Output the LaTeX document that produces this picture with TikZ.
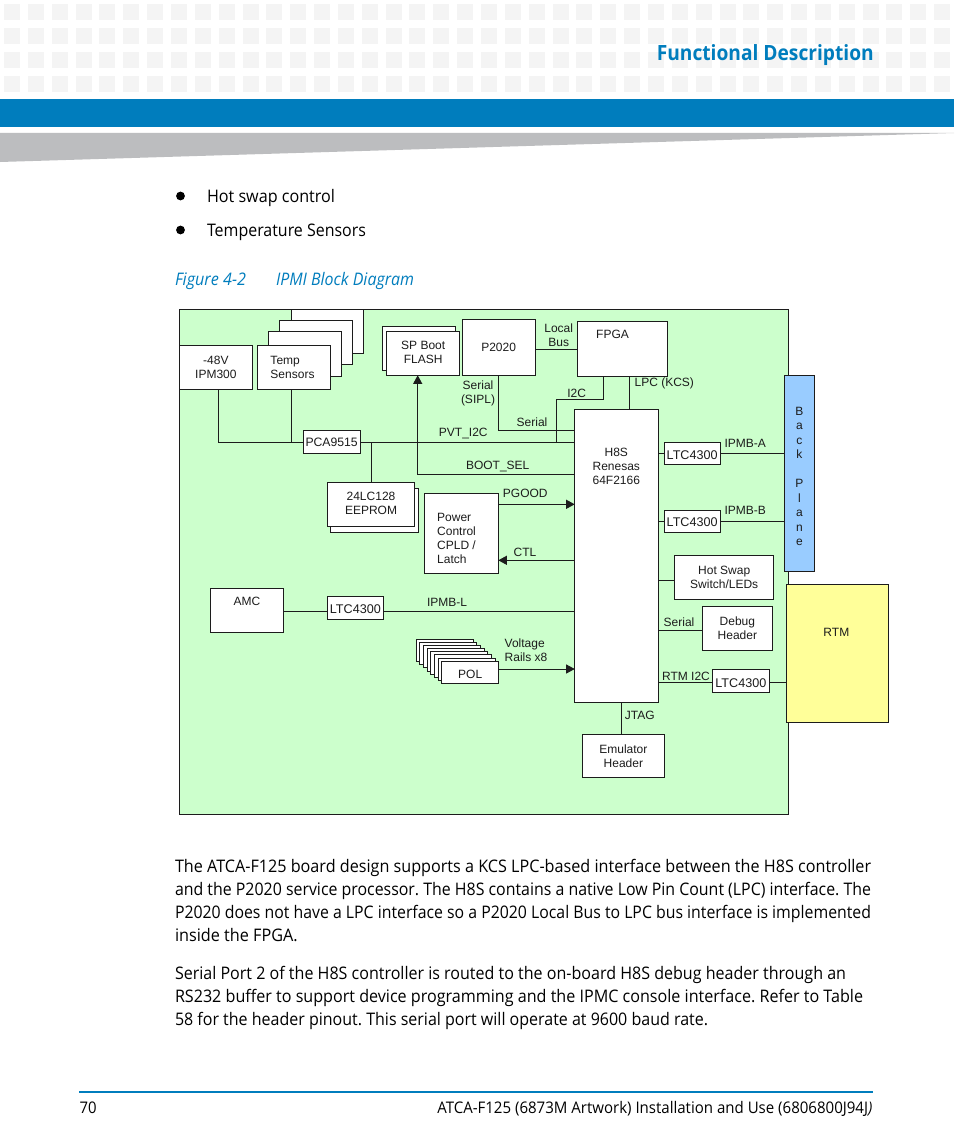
\documentclass[tikz,border=0pt]{standalone}
\usepackage{fontspec}
\usepackage{graphicx}
\usetikzlibrary{arrows.meta}
\setmainfont{Liberation Sans}
\newfontfamily\bdy{Open Sans}
\definecolor{ink}{HTML}{1C1C1C}
\definecolor{panel}{HTML}{CCFFCC}
\definecolor{bp}{HTML}{99CCFF}
\definecolor{rtmc}{HTML}{FFFF99}
\definecolor{brand}{HTML}{007DBD}
\definecolor{wedge}{HTML}{BCBDBF}
\definecolor{sq}{HTML}{F4F4F4}
\newcommand{\pbox}[7][]{%
  \pgfmathsetmacro\pbw{#5-#3}%
  \pgfmathsetmacro\pbh{#6-#4}%
  \node[box,#1,minimum width=\pbw pt,minimum height=\pbh pt] (#2) at ({(#3+#5)/2},{(#4+#6)/2}) {#7};}
\newcommand{\fitw}[2]{\resizebox{#1pt}{\height}{#2}}
\tikzset{
  box/.style={draw=ink,fill=white,line width=0.9pt,inner sep=0pt,outer sep=0pt,align=center,text=ink,font=\fontsize{12}{14}\selectfont},
  txt/.style={inner sep=0pt,outer sep=0pt,align=center,text=ink,font=\fontsize{12}{14}\selectfont},
  ltctxt/.style={txt,font=\fontsize{12.6}{14}\selectfont},
  wire/.style={draw=ink,line width=0.9pt},
  arrowed/.style={wire,-{Triangle[length=8.5pt,width=9pt]}},
  bodyline/.style={inner sep=0pt,outer sep=0pt,anchor=base west,text=black,font=\bdy\fontsize{17.3}{22}\selectfont},
  caption/.style={inner sep=0pt,outer sep=0pt,anchor=base west,text=brand,font=\bdy\itshape\fontsize{17.3}{22}\selectfont},
}
\begin{document}
\frenchspacing
\begin{tikzpicture}[x=1pt,y=-1pt]
\useasboundingbox (0,0) rectangle (954,1145);
% page furniture
\fill[white] (0,0) rectangle (954,1145);
\foreach \i in {0,...,39} \foreach \r in {4,28,52,76}
  \fill[sq] ({4+\i*23.85},\r) rectangle ++(16,16);
\fill[brand] (0,99) rectangle (954,127);
\fill[wedge] (0,133) -- (954,133) -- (0,162) -- cycle;
\node[inner sep=0pt,anchor=base east,text=brand,font=\bdy\bfseries\fontsize{21}{24}\selectfont] (title) at (874,61) {\fitw{217}{Functional Description}};
\fill[black] (180.5,196) circle (4.4);
\fill[black] (180.5,230) circle (4.4);
\node[bodyline] (b1) at (207,202) {\fitw{128}{Hot swap control}};
\node[bodyline] (b2) at (207,236) {\fitw{159}{Temperature Sensors}};
\node[caption] (figno) at (175,285) {\fitw{71}{Figure 4-2}};
\node[caption] (figtitle) at (276,285) {\fitw{138}{IPMI Block Diagram}};
% panel
\draw[draw=ink,fill=panel,line width=0.9pt] (179.5,309.5) rectangle (788,814.5);
% boxes
\pbox{tempd}{291}{309.5}{363.7}{353.3}{}
\pbox{tempc}{279.7}{320.7}{352.7}{364.7}{}
\pbox{tempb}{268.3}{331.7}{341.7}{376}{}
\pbox{ipm}{179.5}{345.3}{252.3}{389.3}{-48V\\IPM300}
\pbox[label={[txt,align=left,xshift=-1.3pt]center:Temp\\Sensors}]{temp}{257.3}{345.3}{330.3}{389.3}{}
\pbox{flashb}{382.3}{326.7}{455.7}{370.7}{}
\pbox[label={[txt,yshift=1pt]center:SP Boot\\FLASH}]{flash}{386.7}{331.3}{459.7}{375.3}{}
\pbox{p2020}{462.3}{319.3}{535}{375}{P2020}
\pbox[label={[txt,xshift=-10pt,yshift=14.5pt]center:FPGA}]{fpga}{577.3}{321}{667.7}{376.3}{}
\pbox{h8s}{574.7}{409.7}{658.3}{702.3}{}
\pbox[label={[txt,yshift=-0.8pt,font=\fontsize{12.2}{14}\selectfont]center:PCA9515}]{pca}{303.3}{430.3}{360}{453}{}
\pbox{eepb}{330.7}{488}{418.3}{532.3}{}
\pbox[label={[txt,yshift=0.8pt]center:24LC128\\EEPROM}]{eep}{327.3}{482}{414.7}{526}{}
\pbox[label={[txt,align=left,xshift=-5pt,yshift=-5pt]center:Power\\Control\\CPLD /\\Latch}]{power}{424.7}{493.7}{498.3}{573.3}{}
\pbox[label={[ltctxt,yshift=-1.7pt]center:LTC4300}]{ltca}{664}{442.3}{720.3}{464.3}{}
\pbox[label={[ltctxt,yshift=-1.3pt]center:LTC4300}]{ltcb}{664}{510}{720.3}{532}{}
\pbox{hotswap}{674.7}{555.7}{773.7}{599.3}{Hot Swap\\Switch/LEDs}
\pbox{debug}{702.7}{606}{772}{650.3}{Debug\\Header}
\pbox[label={[ltctxt,yshift=-1.9pt]center:LTC4300}]{ltcr}{712.7}{669.3}{769}{692.3}{}
\pbox{emu}{582.7}{734}{664}{777.7}{Emulator\\Header}
\pbox[label={[txt,yshift=8.5pt]center:AMC}]{amc}{210}{588}{283.7}{632}{}
\pbox[label={[ltctxt,yshift=-1.8pt]center:LTC4300}]{ltcl}{327}{596}{383.7}{619}{}
\pbox{pola}{416.3}{639}{473.3}{661.4}{}
\pbox{polb}{419.9}{642.2}{476.9}{664.6}{}
\pbox{polc}{423.6}{645.4}{480.6}{667.8}{}
\pbox{pold}{427.2}{648.6}{484.2}{671}{}
\pbox{pole}{430.8}{651.8}{487.8}{674.2}{}
\pbox{polf}{434.5}{654.9}{491.5}{677.3}{}
\pbox{polg}{438.1}{658.1}{495.1}{680.5}{}
\pbox[label={[txt,yshift=-2pt]center:POL}]{pol}{441.7}{661.3}{498.7}{683.7}{}
\pbox[fill=bp,label={[txt,yshift=-3pt,font=\fontsize{12}{14.45}\selectfont]center:B\\a\\c\\k\\ \\P\\l\\a\\n\\e}]{back}{784.7}{375}{814}{571.7}{}
\pbox[fill=rtmc,label={[txt,yshift=21.5pt,xshift=-0.8pt]center:RTM}]{rtm}{786}{584.7}{888.3}{722.3}{}
\node[txt] (h8sl) at (616.3,466.7) {H8S\\Renesas\\64F2166};
% connector way-points
\coordinate (busL) at (218.7,442.7);
\coordinate (busT) at (291,442.7);
\coordinate (busE) at (371,442.7);
\coordinate (bootC) at (417.7,474.3);
\coordinate (serC) at (498.7,430.3);
\coordinate (i2cA) at (603.7,399.3);
\coordinate (i2cB) at (556.7,399.3);
\coordinate (i2cC) at (556.7,442.7);
\coordinate (lpcx) at (629.3,0);
\coordinate (jtagx) at (621.7,0);
\coordinate (localy) at (0,349.7);
\coordinate (pgoody) at (0,504.3);
\coordinate (ctly) at (0,560.3);
\coordinate (hsy) at (0,580);
\coordinate (dbgy) at (0,630);
\coordinate (rtmy) at (0,682.7);
\coordinate (ily) at (0,611.3);
\coordinate (vry) at (0,669);
% connectors
\draw[wire] (ipm.south -| busL) -- (busL) -- (pca.west |- busL);
\draw[wire] (temp.south -| busT) -- (busT);
\draw[wire] (pca.east |- busL) -- (h8s.west |- busL);
\draw[wire] (busE) -- (eep.north -| busE);
\draw[arrowed] (h8s.west |- bootC) -- (bootC) -- (flash.south -| bootC);
\draw[wire] (p2020.south -| serC) -- (serC) -- (h8s.west |- serC);
\draw[wire] (fpga.south -| i2cA) -- (i2cA) -- (i2cB) -- (i2cC);
\draw[wire] (fpga.south -| lpcx) -- (h8s.north -| lpcx);
\draw[wire] (p2020.east |- localy) -- (fpga.west |- localy);
\draw[arrowed] (power.east |- pgoody) -- (h8s.west |- pgoody);
\draw[arrowed] (h8s.west |- ctly) -- (power.east |- ctly);
\draw[wire] (h8s.east |- ltca.west) -- (ltca.west);
\draw[wire] (ltca.east) -- (back.west |- ltca.east);
\draw[wire] (h8s.east |- ltcb.west) -- (ltcb.west);
\draw[wire] (ltcb.east) -- (back.west |- ltcb.east);
\draw[wire] (h8s.east |- hsy) -- (hotswap.west |- hsy);
\draw[wire] (h8s.east |- dbgy) -- (debug.west |- dbgy);
\draw[wire] (h8s.east |- rtmy) -- (ltcr.west |- rtmy);
\draw[wire] (ltcr.east |- rtmy) -- (rtm.west |- rtmy);
\draw[wire] (amc.east |- ily) -- (ltcl.west |- ily);
\draw[wire] (ltcl.east |- ily) -- (h8s.west |- ily);
\draw[arrowed] (pol.east |- vry) -- (h8s.west |- vry);
\draw[wire] (h8s.south -| jtagx) -- (emu.north -| jtagx);
% connector labels
\node[txt] (lbus) at (558.7,335) {Local\\Bus};
\node[txt,text height=9pt] (llpc) at (664.3,383.7) {LPC (KCS)};
\node[txt] (li2c) at (576.7,393.3) {I2C};
\node[txt] (lsipl) at (478,393) {Serial\\(SIPL)};
\node[txt] (lser) at (532,422.7) {Serial};
\node[txt] (lpvt) at (463.3,433) {PVT\_I2C};
\node[txt] (lboot) at (497.7,466) {BOOT\_SEL};
\node[txt] (lpg) at (525.3,493.7) {PGOOD};
\node[txt] (lctl) at (525,552.7) {CTL};
\node[txt] (lia) at (745.3,443.7) {IPMB-A};
\node[txt] (lib) at (745.3,510.7) {IPMB-B};
\node[txt] (lse) at (679,622.7) {Serial};
\node[txt] (lrtm) at (686,676) {RTM I2C};
\node[txt] (ljt) at (639.7,715.7) {JTAG};
\node[txt] (lil) at (447,602.3) {IPMB-L};
\node[txt,align=left,anchor=west] (lvr) at (504.7,650.5) {Voltage\\Rails x8};
% body text
\node[bodyline] (p1) at (175,872) {\fitw{696}{The ATCA-F125 board design supports a KCS LPC-based interface between the H8S controller}};
\node[bodyline] (p2) at (175,895) {\fitw{696}{and the P2020 service processor. The H8S contains a native Low Pin Count (LPC) interface. The}};
\node[bodyline] (p3) at (175,918) {\fitw{696}{P2020 does not have a LPC interface so a P2020 Local Bus to LPC bus interface is implemented}};
\node[bodyline] (p4) at (175,941) {\fitw{122.7}{inside the FPGA.}};
\node[bodyline] (p5) at (175,979) {\fitw{671}{Serial Port 2 of the H8S controller is routed to the on-board H8S debug header through an}};
\node[bodyline] (p6) at (175,1002) {\fitw{688}{RS232 buffer to support device programming and the IPMC console interface. Refer to Table}};
\node[bodyline] (p7) at (175,1025) {\fitw{533}{58 for the header pinout. This serial port will operate at 9600 baud rate.}};
% footer
\fill[brand] (79,1090.6) rectangle (873,1092.6);
\node[inner sep=0pt,anchor=base west,font=\bdy\fontsize{16}{18}\selectfont] (pg) at (79.5,1113.3) {\fitw{17}{70}};
\node[inner sep=0pt,anchor=base east,font=\bdy\fontsize{16}{18}\selectfont] (ft) at (872.5,1113.3) {\fitw{435}{ATCA-F125 (6873M Artwork) Installation and Use (6806800J94J{\itshape )}}};
\end{tikzpicture}
\end{document}
